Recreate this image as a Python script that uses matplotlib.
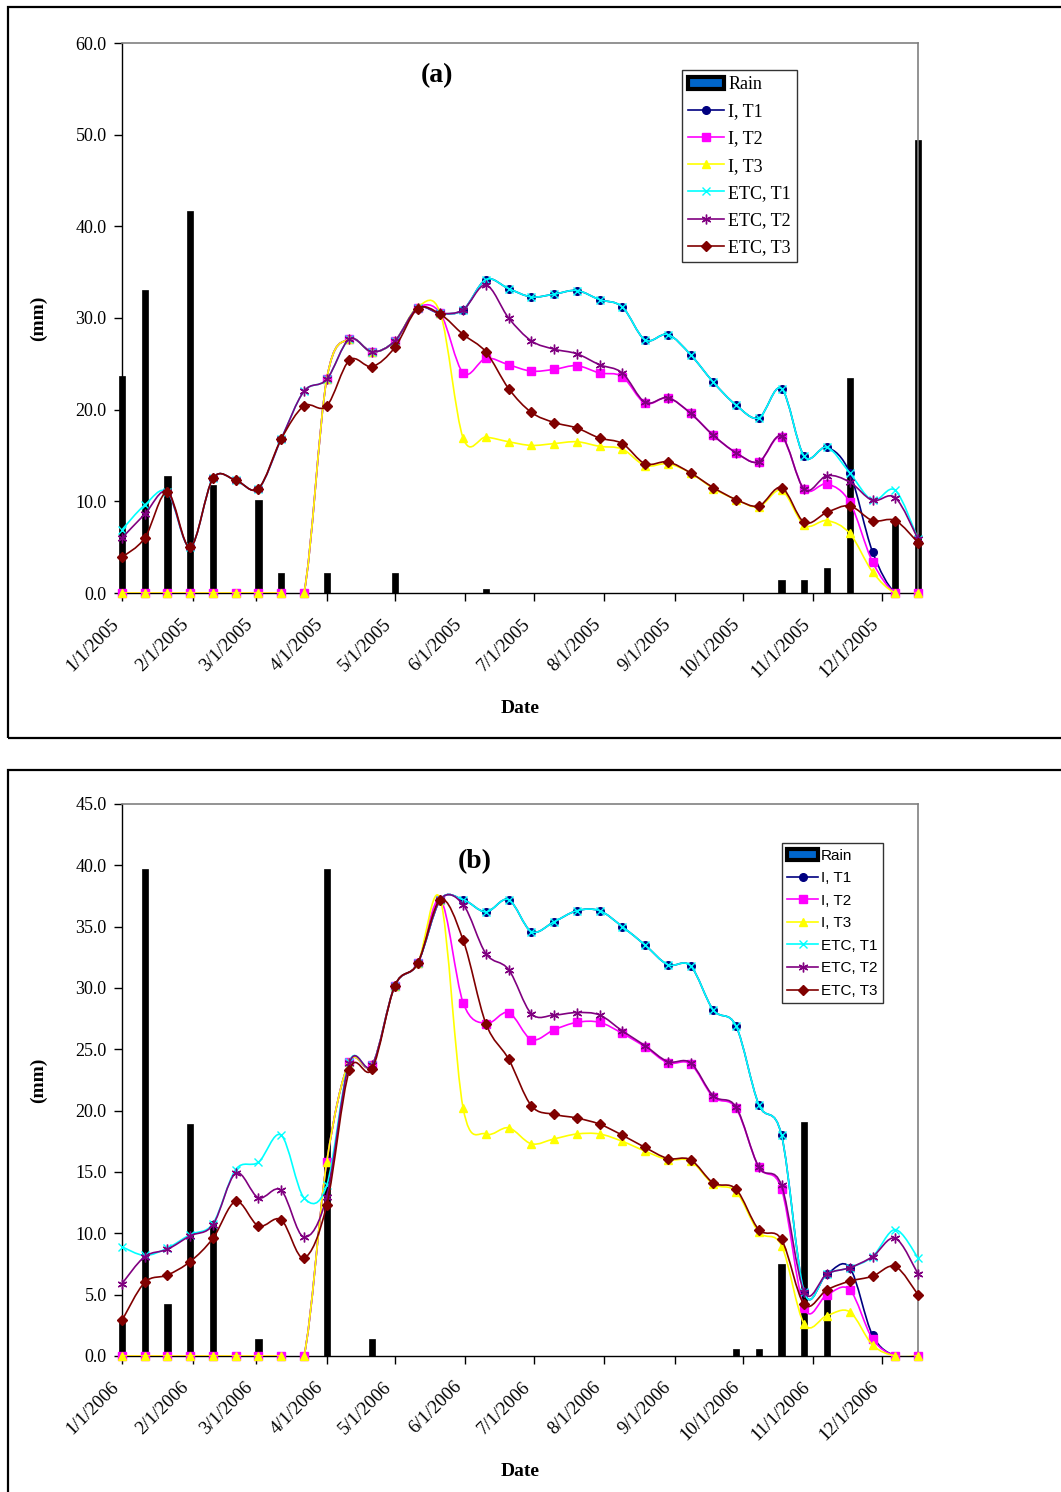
import matplotlib
matplotlib.use("Agg")
import matplotlib.pyplot as plt
import matplotlib.dates as mdates
import matplotlib.transforms as mtransforms
from matplotlib.path import Path
from matplotlib.patches import PathPatch, Patch, Rectangle
from matplotlib.lines import Line2D
from datetime import datetime, timedelta
import numpy as np

# ---------------- data (10-day steps) ----------------
dates_a = [datetime(2005, 1, 1) + timedelta(days=10 * i) for i in range(36)]
dates_b = [datetime(2006, 1, 1) + timedelta(days=10 * i) for i in range(36)]

rain_a = [23.7, 33.1, 12.8, 41.7, 11.8, 0, 10.1, 2.2, 0, 2.2, 0, 0, 2.2, 0, 0, 0, 0.4, 0,
          0, 0, 0, 0, 0, 0, 0, 0, 0, 0, 0, 1.4, 1.4, 2.7, 23.5, 0, 7.7, 49.4]
i_t1_a = [0, 0, 0, 0, 0, 0, 0, 0, 0, 23.3, 27.7, 26.3, 27.5, 31.1, 30.5, 30.9, 34.2, 33.2,
          32.3, 32.6, 33.0, 32.0, 31.2, 27.6, 28.2, 26.0, 23.0, 20.5, 19.1, 22.3, 14.9, 15.9,
          13.1, 4.5, 0, 0]
i_t2_a = [0, 0, 0, 0, 0, 0, 0, 0, 0, 23.3, 27.7, 26.3, 27.5, 31.1, 30.5, 24.0, 25.6, 24.9,
          24.2, 24.4, 24.8, 24.0, 23.6, 20.7, 21.3, 19.6, 17.2, 15.3, 14.3, 17.0, 11.3, 11.9,
          9.9, 3.4, 0, 0]
i_t3_a = [0, 0, 0, 0, 0, 0, 0, 0, 0, 23.3, 27.7, 26.3, 27.5, 31.2, 30.5, 16.9, 17.0, 16.5,
          16.1, 16.3, 16.5, 16.0, 15.7, 13.9, 14.1, 13.1, 11.4, 10.2, 9.4, 11.2, 7.4, 7.9,
          6.5, 2.3, 0, 0]
etc_t1_a = [6.9, 9.6, 11.0, 5.0, 12.5, 12.3, 11.4, 16.8, 22.0, 23.3, 27.7, 26.3, 27.5, 31.1,
            30.5, 30.9, 34.2, 33.2, 32.3, 32.6, 33.0, 32.0, 31.2, 27.6, 28.2, 26.0, 23.0,
            20.5, 19.1, 22.3, 14.9, 15.9, 13.1, 10.1, 11.2, 5.9]
etc_t2_a = [6.0, 8.6, 11.0, 5.0, 12.5, 12.3, 11.4, 16.8, 22.0, 23.3, 27.7, 26.3, 27.5, 31.1,
            30.5, 30.9, 33.6, 30.0, 27.5, 26.6, 26.1, 24.9, 24.0, 20.8, 21.3, 19.6, 17.2,
            15.3, 14.3, 17.1, 11.3, 12.8, 12.1, 10.1, 10.4, 5.9]
etc_t3_a = [3.9, 6.0, 11.0, 5.0, 12.5, 12.3, 11.4, 16.8, 20.4, 20.4, 25.4, 24.7, 26.8, 31.0,
            30.4, 28.2, 26.3, 22.3, 19.7, 18.6, 18.0, 16.9, 16.3, 14.1, 14.3, 13.1, 11.5,
            10.2, 9.5, 11.5, 7.7, 8.8, 9.5, 7.9, 7.9, 5.5]

rain_b = [2.9, 39.7, 4.2, 18.9, 11.0, 0, 1.4, 0, 0, 39.7, 0, 1.4, 0, 0, 0, 0, 0, 0,
          0, 0, 0, 0, 0, 0, 0, 0, 0, 0.6, 0.6, 7.5, 19.1, 5.5, 0, 0, 0, 0]
i_t1_b = [0, 0, 0, 0, 0, 0, 0, 0, 0, 15.8, 24.0, 23.7, 30.2, 32.0, 37.2, 37.2, 36.2, 37.2,
          34.6, 35.4, 36.3, 36.3, 35.0, 33.5, 31.9, 31.8, 28.2, 26.9, 20.5, 18.0, 5.2, 6.7,
          7.2, 1.7, 0, 0]
i_t2_b = [0, 0, 0, 0, 0, 0, 0, 0, 0, 15.8, 24.0, 23.7, 30.2, 32.0, 37.2, 28.8, 27.1, 28.0,
          25.8, 26.6, 27.2, 27.2, 26.3, 25.2, 23.9, 23.8, 21.1, 20.2, 15.4, 13.6, 3.9, 5.0,
          5.4, 1.4, 0, 0]
i_t3_b = [0, 0, 0, 0, 0, 0, 0, 0, 0, 15.8, 24.0, 23.7, 30.2, 32.0, 37.2, 20.2, 18.1, 18.6,
          17.3, 17.7, 18.1, 18.1, 17.5, 16.7, 16.0, 15.9, 14.0, 13.4, 10.1, 9.0, 2.6, 3.3,
          3.6, 0.9, 0, 0]
etc_t1_b = [8.9, 8.2, 8.8, 9.9, 10.8, 15.2, 15.8, 18.0, 12.9, 13.9, 24.0, 23.7, 30.2, 32.0,
            37.2, 37.2, 36.2, 37.2, 34.6, 35.4, 36.3, 36.3, 35.0, 33.5, 31.9, 31.8, 28.2,
            26.9, 20.5, 18.0, 5.2, 6.7, 7.2, 8.1, 10.3, 8.0]
etc_t2_b = [5.9, 8.1, 8.7, 9.8, 10.7, 14.9, 12.9, 13.5, 9.7, 13.0, 23.9, 23.7, 30.2, 32.0,
            37.2, 36.8, 32.8, 31.5, 27.9, 27.8, 28.0, 27.8, 26.5, 25.3, 24.0, 23.9, 21.2,
            20.3, 15.4, 13.9, 5.2, 6.7, 7.2, 8.1, 9.6, 6.7]
etc_t3_b = [2.9, 6.0, 6.6, 7.7, 9.6, 12.6, 10.6, 11.1, 8.0, 12.3, 23.3, 23.4, 30.2, 32.0,
            37.2, 33.9, 27.1, 24.2, 20.4, 19.7, 19.4, 18.9, 18.0, 17.0, 16.1, 16.0, 14.1,
            13.6, 10.3, 9.5, 4.2, 5.4, 6.1, 6.5, 7.3, 5.0]

series_names = ["I, T1", "I, T2", "I, T3", "ETC, T1", "ETC, T2", "ETC, T3"]
series_colors = ["#000080", "#FF00FF", "#FFFF00", "#00FFFF", "#800080", "#800000"]
series_markers = ["o", "s", "^", "x", (6, 2, 0), "D"]
series_msize = [5.5, 5.5, 6, 6, 7, 5]

W, H = 1061, 1492
fig = plt.figure(figsize=(W / 100, H / 100), dpi=100)

# outer boxes
fig.patches.append(Rectangle((8 / W, 1 - 738 / H), 1.2, (738 - 7) / H, transform=fig.transFigure,
                             fill=False, edgecolor="black", lw=1.6))
fig.patches.append(Rectangle((8 / W, -0.1), 1.2, (1 - 770 / H) + 0.1, transform=fig.transFigure,
                             fill=False, edgecolor="black", lw=1.6))


def smooth_path(xs, ys):
    n = len(xs)
    verts = [(xs[0], ys[0])]
    codes = [Path.MOVETO]
    for i in range(n - 1):
        p0 = i - 1 if i > 0 else 0
        p3 = i + 2 if i + 2 < n else n - 1
        c1 = (xs[i] + (xs[i + 1] - xs[p0]) / 6.0, ys[i] + (ys[i + 1] - ys[p0]) / 6.0)
        c2 = (xs[i + 1] - (xs[p3] - xs[i]) / 6.0, ys[i + 1] - (ys[p3] - ys[i]) / 6.0)
        verts += [c1, c2, (xs[i + 1], ys[i + 1])]
        codes += [Path.CURVE4] * 3
    return Path(verts, codes)


def panel(rect, dates, rain, series, ymax, ystep, year, tag, tag_xy, label_y, date_y,
          leg_anchor, leg_font):
    ax = fig.add_axes(rect)
    x = mdates.date2num(dates)
    ax.bar(x, rain, width=2.8, color="black", edgecolor="black", lw=0.5, zorder=1, clip_on=False)
    for k, ys in enumerate(series):
        pth = smooth_path(list(x), list(ys))
        ax.add_patch(PathPatch(pth, facecolor="none", edgecolor=series_colors[k], lw=1.2,
                               zorder=2 + k))
        mec = series_colors[k]
        ax.plot(x, ys, linestyle="none", marker=series_markers[k], color=series_colors[k],
                markersize=series_msize[k], markeredgecolor=mec, markeredgewidth=1.0,
                zorder=2.5 + k, clip_on=False)
    ax.set_xlim(x[0], x[-1])
    ax.set_ylim(0, ymax)
    ax.set_yticks(np.arange(0, ymax + 0.01, ystep))
    ax.set_yticklabels([f"{v:.1f}" for v in np.arange(0, ymax + 0.01, ystep)],
                       family="Liberation Serif", fontsize=13)
    months = [datetime(year, m, 1) for m in range(1, 13)]
    ax.set_xticks(mdates.date2num(months))
    ax.set_xticklabels([f"{d.month}/1/{d.year}" for d in months], rotation=45, ha="right",
                       rotation_mode="anchor", family="Liberation Serif", fontsize=13.5)
    ax.tick_params(axis="both", direction="out", length=6, width=1, colors="black", pad=5)
    offset = mtransforms.ScaledTranslation(-0.12, -0.07, fig.dpi_scale_trans)
    for lab in ax.get_xticklabels():
        lab.set_transform(lab.get_transform() + offset)
    for s in ["top", "right"]:
        ax.spines[s].set_color("#808080")
        ax.spines[s].set_linewidth(1.2)
    for s in ["left", "bottom"]:
        ax.spines[s].set_color("black")
        ax.spines[s].set_linewidth(1.0)
    handles = [Patch(facecolor="#0066CC", edgecolor="black", lw=3)]
    for k in range(6):
        handles.append(Line2D([], [], color=series_colors[k], marker=series_markers[k],
                              markersize=series_msize[k], lw=1.2))
    leg = ax.legend(handles, ["Rain"] + series_names, loc="upper left",
                    bbox_to_anchor=leg_anchor, borderaxespad=0, frameon=True, fancybox=False,
                    prop=leg_font, handlelength=2.0, handletextpad=0.2, labelspacing=0.56,
                    borderpad=0.35)
    leg.get_frame().set_edgecolor("black")
    leg.get_frame().set_linewidth(1.0)
    fig.text(tag_xy[0] / W, 1 - tag_xy[1] / H, tag, ha="center", va="center",
             family="Liberation Serif", fontweight="bold", fontsize=20)
    fig.text(38 / W, 1 - label_y / H, "(mm)", rotation=90, ha="center", va="center",
             family="Liberation Serif", fontweight="bold", fontsize=14)
    fig.text(520 / W, 1 - date_y / H, "Date", ha="center", va="center",
             family="Liberation Serif", fontweight="bold", fontsize=14)
    return ax


panel([122 / W, 1 - 593 / H, (918 - 122) / W, (593 - 43) / H], dates_a, rain_a,
      [i_t1_a, i_t2_a, i_t3_a, etc_t1_a, etc_t2_a, etc_t3_a], 60, 10, 2005, "(a)", (437, 76),
      318, 709, (0.7035, 0.951), {"family": "Liberation Serif", "size": 13})

panel([122 / W, 1 - 1356 / H, (918 - 122) / W, (1356 - 804) / H], dates_b, rain_b,
      [i_t1_b, i_t2_b, i_t3_b, etc_t1_b, etc_t2_b, etc_t3_b], 45, 5, 2006, "(b)", (475, 862),
      1080, 1472, (0.829, 0.929), {"family": "Liberation Sans", "size": 11})

fig.savefig("out.png", dpi=100)
